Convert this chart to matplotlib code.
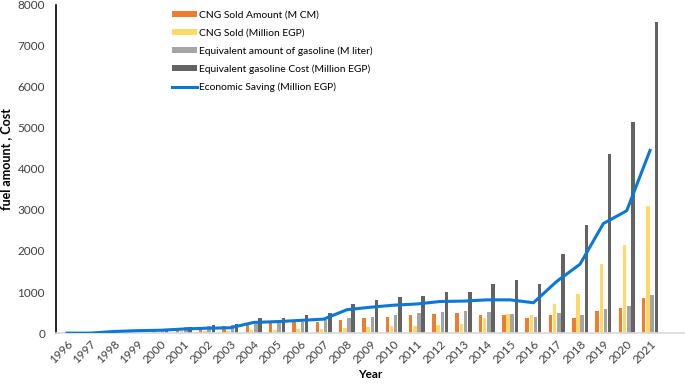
import numpy as np
import matplotlib
matplotlib.use('Agg')
import matplotlib.pyplot as plt

plt.rcParams['font.family'] = ['Lato', 'DejaVu Sans']

# Data
years = [str(y) for y in range(1996, 2022)]
cng_amount = [0, 0, 0, 0, 100, 120, 160, 180, 200, 240, 260, 280, 330, 370, 400,
              430, 470, 490, 450, 430, 370, 430, 380, 530, 600, 860]
cng_egp = [0, 0, 0, 0, 30, 50, 60, 60, 80, 80, 100, 110, 120, 150, 180,
           180, 200, 210, 360, 470, 440, 700, 960, 1690, 2150, 3090]
gasoline_amount = [0, 0, 0, 0, 80, 150, 180, 200, 220, 260, 280, 310, 360, 400, 440,
                   480, 520, 530, 510, 470, 400, 480, 430, 580, 660, 940]
gasoline_cost = [0, 0, 0, 0, 100, 150, 200, 230, 370, 380, 450, 490, 720, 810, 870,
                 910, 1000, 1000, 1190, 1290, 1190, 1930, 2640, 4370, 5140, 7580]
saving = [0, 0, 40, 60, 70, 100, 120, 130, 260, 280, 310, 340, 570, 630, 680,
          710, 770, 780, 810, 810, 740, 1260, 1680, 2670, 2980, 4450]

fig = plt.figure(figsize=(6.85, 3.86), dpi=100)
ax = fig.add_axes([0.082, 0.137, 0.918, 0.851])

x = np.arange(len(years))
w = 0.15
ax.bar(x - 0.27, cng_amount, w, color='#ED7D31', label='CNG Sold Amount (M CM)')
ax.bar(x - 0.09, cng_egp, w, color='#FFD966', label='CNG Sold (Million EGP)')
ax.bar(x + 0.09, gasoline_amount, w, color='#A5A5A5', label='Equivalent amount of gasoline (M liter)')
ax.bar(x + 0.27, gasoline_cost, w, color='#636363', label='Equivalent gasoline Cost (Million EGP)')
ax.plot(x, saving, color='#0A78D6', lw=2.2, label='Economic Saving (Million EGP)', zorder=3)

ax.set_xlim(-0.47, 26.5)
ax.set_ylim(0, 8000)
ax.set_yticks(range(0, 8001, 1000))
ax.set_xticks(x)
ax.set_xticklabels(years, rotation=45, ha='right', rotation_mode='anchor', fontsize=8.5)
ax.tick_params(axis='y', labelsize=8.5, length=0, pad=8)
ax.tick_params(axis='x', length=0, pad=4)
for lab in ax.get_yticklabels() + ax.get_xticklabels():
    lab.set_color('#404040')

for s in ['top', 'right']:
    ax.spines[s].set_visible(False)
ax.spines['left'].set_color('black')
ax.spines['left'].set_linewidth(1.2)
ax.spines['bottom'].set_color('#D9D9D9')
ax.spines['bottom'].set_linewidth(1.2)

ax.set_ylabel('fuel amount , Cost', fontsize=9, fontweight='bold', labelpad=6)
ax.yaxis.set_label_coords(-0.07, 0.53)
ax.set_xlabel('Year', fontsize=8.5, fontweight='bold', labelpad=2)

handles, labels = ax.get_legend_handles_labels()
order = [1, 2, 3, 4, 0]
ax.legend([handles[i] for i in order], [labels[i] for i in order],
          loc='upper left', bbox_to_anchor=(0.17, 1.01), frameon=False,
          fontsize=7.4, handlelength=2.4, handleheight=0.5, handletextpad=0.2,
          labelspacing=0.85)

fig.savefig('out.png', dpi=100)
